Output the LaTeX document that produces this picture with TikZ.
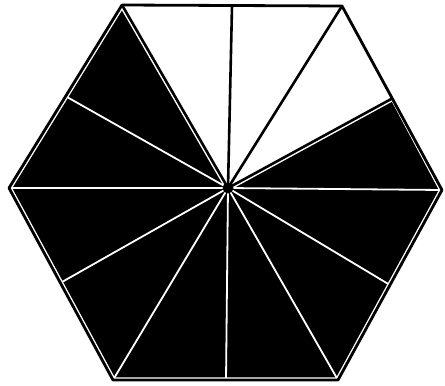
\documentclass[tikz,border=0pt]{standalone}
\usepackage{tikz}
\definecolor{ink}{HTML}{000000}
\tikzset{
  rim/.style={ink,line width=2.8pt,line join=round},
  spoke/.style={ink,line width=2.6pt},
  gap/.style={white,line width=1.8pt}
}
\begin{document}
\begin{tikzpicture}[x=1pt,y=-1pt]
  \useasboundingbox (0,0) rectangle (445,386);
  % corners and edge midpoints
  \coordinate (O) at (228,188);
  \coordinate (tl) at (122,5);   \coordinate (mt) at (232,6);
  \coordinate (tr) at (342,6);   \coordinate (mur) at (393,98);
  \coordinate (r) at (442,190);  \coordinate (mlr) at (390,285);
  \coordinate (br) at (338,380); \coordinate (mb) at (226,381);
  \coordinate (bl) at (113,380); \coordinate (mll) at (62,282);
  \coordinate (l) at (9,188);    \coordinate (mul) at (67,97);
  % shaded part
  \fill[ink] (O) -- (mur) -- (r) -- (br) -- (bl) -- (l) -- (tl) -- cycle;
  \begin{scope}
    \clip (O) -- (mur) -- (r) -- (br) -- (bl) -- (l) -- (tl) -- cycle;
    \draw[white,line width=5.5pt] (O) -- (mur) -- (r) -- (br) -- (bl) -- (l) -- (tl) -- cycle;
  \end{scope}
  \foreach \p in {mul,l,mll,bl,mb,br,mlr,r}
    \draw[gap] (O) -- (\p);
  % outline and spokes of the white part
  \foreach \p in {tl,mt,tr,mur}
    \draw[spoke] (O) -- (\p);
  \draw[rim] (tl) -- (tr) -- (r) -- (br) -- (bl) -- (l) -- cycle;
  \fill[ink] (O) circle (5.5pt);
\end{tikzpicture}
\end{document}
